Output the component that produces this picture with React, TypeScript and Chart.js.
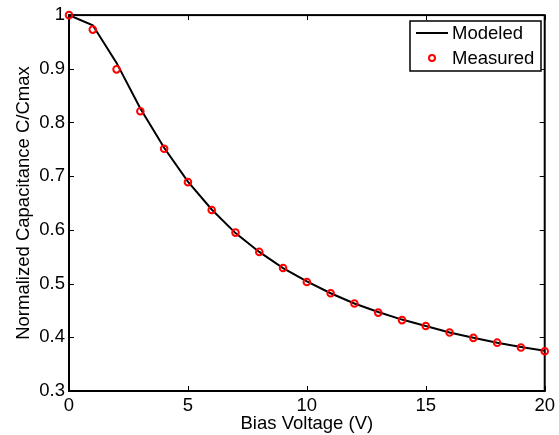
import React, { useEffect, useRef } from "react";
import { Chart, registerables } from "chart.js";

Chart.register(...registerables);

const voltages = [0, 1, 2, 3, 4, 5, 6, 7, 8, 9, 10, 11, 12, 13, 14, 15, 16, 17, 18, 19, 20];
const modeled = [1.0, 0.981, 0.911, 0.826, 0.753, 0.69, 0.638, 0.594, 0.559, 0.529, 0.504, 0.482, 0.463, 0.447, 0.433, 0.421, 0.409, 0.399, 0.39, 0.382, 0.375];
const measured = [1.0, 0.973, 0.899, 0.821, 0.751, 0.689, 0.637, 0.595, 0.559, 0.529, 0.503, 0.482, 0.463, 0.446, 0.432, 0.421, 0.409, 0.399, 0.39, 0.381, 0.374];
const xTicks = [0, 5, 10, 15, 20];
const yTicks = [0.3, 0.4, 0.5, 0.6, 0.7, 0.8, 0.9, 1.0];

const FONT = "'Liberation Sans', Arial, Helvetica, sans-serif";
const FS = 18.5;

const framePlugin = {
  id: "frame",
  beforeDatasetsDraw(chart: any) {
    const { ctx, chartArea: a, scales } = chart;
    ctx.save();
    ctx.strokeStyle = "#000";
    ctx.lineWidth = 1;
    const t = 5;
    ctx.beginPath();
    for (const v of xTicks) {
      const x = Math.round(scales.x.getPixelForValue(v)) + 0.5;
      ctx.moveTo(x, a.bottom);
      ctx.lineTo(x, a.bottom - t);
      ctx.moveTo(x, a.top);
      ctx.lineTo(x, a.top + t);
    }
    for (const v of yTicks) {
      const y = Math.round(scales.y.getPixelForValue(v)) + 0.5;
      ctx.moveTo(a.left, y);
      ctx.lineTo(a.left + t, y);
      ctx.moveTo(a.right, y);
      ctx.lineTo(a.right - t, y);
    }
    ctx.stroke();
    ctx.lineWidth = 2;
    ctx.strokeRect(a.left, a.top, a.right - a.left, a.bottom - a.top);
    ctx.restore();
  },
  afterDraw(chart: any) {
    const { ctx } = chart;
    const ds = chart.data.datasets;
    const bx = 410;
    const by = 21;
    const bw = 131;
    const bh = 50;
    ctx.save();
    ctx.fillStyle = "#fff";
    ctx.fillRect(bx, by, bw, bh);
    ctx.strokeStyle = "#000";
    ctx.lineWidth = 1.5;
    ctx.strokeRect(bx, by, bw, bh);
    ctx.font = `${FS}px ${FONT}`;
    ctx.fillStyle = "#000";
    ctx.textBaseline = "middle";
    ctx.textAlign = "left";
    ctx.lineWidth = 2;
    ctx.beginPath();
    ctx.moveTo(416, 33);
    ctx.lineTo(448, 33);
    ctx.stroke();
    ctx.fillText(ds[0].label, 452, 34);
    ctx.strokeStyle = "#ff0000";
    ctx.lineWidth = 2;
    ctx.beginPath();
    ctx.arc(432, 58, 3, 0, Math.PI * 2);
    ctx.stroke();
    ctx.fillText(ds[1].label, 452, 59);
    ctx.restore();
  },
};

export default function App() {
  const ref = useRef<HTMLCanvasElement | null>(null);
  useEffect(() => {
    document.body.style.margin = "0";
    const canvas = ref.current!;
    const chart = new Chart(canvas, {
      type: "line",
      data: {
        labels: voltages,
        datasets: [
          {
            label: "Modeled",
            data: voltages.map((v, i) => ({ x: v, y: modeled[i] })),
            borderColor: "#000",
            borderWidth: 2,
            pointRadius: 0,
            fill: false,
            tension: 0,
            order: 1,
          },
          {
            label: "Measured",
            data: voltages.map((v, i) => ({ x: v, y: measured[i] })),
            showLine: false,
            borderColor: "#ff0000",
            backgroundColor: "rgba(0,0,0,0)",
            pointRadius: 3.3,
            pointBorderWidth: 2,
            pointStyle: "circle",
            clip: false as any,
            order: 0,
          },
        ],
      },
      options: {
        responsive: false,
        animation: false,
        layout: { padding: { top: 15, right: 13, left: 0, bottom: 0 } },
        plugins: { legend: { display: false }, tooltip: { enabled: false } },
        scales: {
          x: {
            type: "linear",
            min: 0,
            max: 20,
            grid: { display: false, drawTicks: false },
            border: { display: false },
            afterBuildTicks: (s: any) => {
              s.ticks = xTicks.map((v) => ({ value: v }));
            },
            afterFit: (s: any) => {
              s.height = 44;
            },
            ticks: {
              padding: 4,
              color: "#000",
              font: { family: FONT, size: FS },
              maxRotation: 0,
              callback: (v: any) => String(v),
            },
            title: {
              display: true,
              text: "Bias Voltage (V)",
              color: "#000",
              font: { family: FONT, size: FS },
              padding: { top: 0, bottom: 0 },
            },
          },
          y: {
            type: "linear",
            min: 0.3,
            max: 1,
            grid: { display: false, drawTicks: false },
            border: { display: false },
            afterBuildTicks: (s: any) => {
              s.ticks = yTicks.map((v) => ({ value: v }));
            },
            afterFit: (s: any) => {
              s.width = 69;
            },
            ticks: {
              padding: 4,
              color: "#000",
              font: { family: FONT, size: FS },
              callback: (v: any) => String(Number(Number(v).toFixed(2))),
            },
            title: {
              display: true,
              text: "Normalized Capacitance C/Cmax",
              color: "#000",
              font: { family: FONT, size: FS },
              padding: { top: 13, bottom: 0 },
            },
          },
        },
      },
      plugins: [framePlugin],
    });
    return () => chart.destroy();
  }, []);
  return (
    <div style={{ position: "absolute", left: 0, top: 0 }}>
      <canvas ref={ref} width={559} height={435} />
    </div>
  );
}
